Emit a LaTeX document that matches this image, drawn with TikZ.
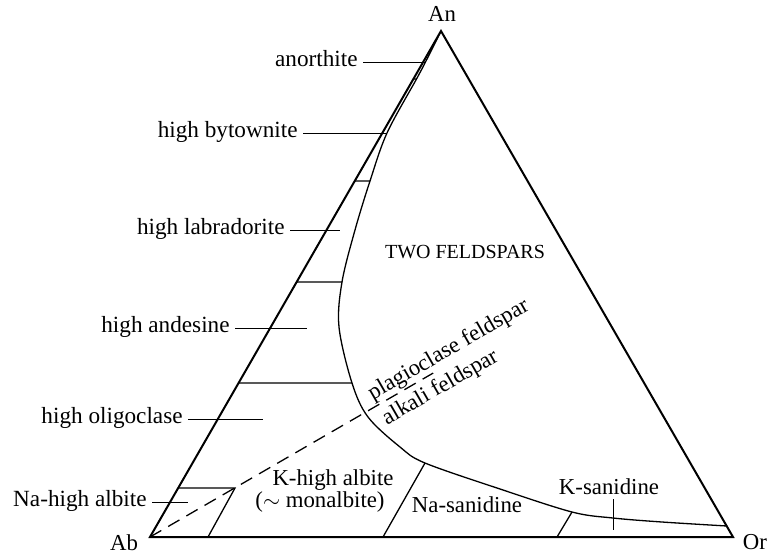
\documentclass[tikz,border=0pt]{standalone}
\usepackage{fontspec}
\setmainfont{Liberation Serif}
\usetikzlibrary{calc}
\begin{document}
\begin{tikzpicture}[x=0.5pt,y=-0.5pt,
  edge/.style={line width=1pt, line join=miter},
  bound/.style={line width=0.65pt},
  tick/.style={line width=0.5pt},
  lbl/.style={font=\fontsize{11.6}{13}\selectfont, inner sep=2.5pt, text height=0.7em, text depth=0.25em},
  vertex/.style={font=\fontsize{11.4}{13}\selectfont, inner sep=0pt},
  small/.style={font=\fontsize{10}{12}\selectfont, inner sep=0pt}]
  \useasboundingbox (0,0) rectangle (777,553);
  \coordinate (Ab) at (150,537);
  \coordinate (Or) at (733,537);
  \coordinate (An) at (441,31);
  \coordinate (M) at ($(An)!0.5!(Or)$);
  \draw[edge] (Ab) -- (An) -- (Or) -- cycle;
  \node[vertex] (lAn) at (442,14) {An};
  \node[vertex] (lAb) at (124,543) {Ab};
  \node[vertex] (lOr) at (755,542) {Or};
  % solvus
  \coordinate (c1) at (425.5,62);
  \coordinate (c2) at (416.5,79);
  \coordinate (c3) at (387,133);
  \coordinate (c4) at (370,181);
  \coordinate (c5) at (355,230);
  \coordinate (c6) at (342,282);
  \coordinate (c7) at (339,327);
  \coordinate (c8) at (352,383);
  \coordinate (c9) at (368,417);
  \coordinate (c10) at (400,447);
  \coordinate (c11) at (425,463);
  \coordinate (c12) at (500,489);
  \coordinate (c13) at (572,512);
  \coordinate (c14) at (613,518);
  \coordinate (c15) at (662,522);
  \coordinate (c16) at (727,526);
  \draw[bound] plot[smooth, tension=0.55] coordinates {(An) (c1) (c2) (c3) (c4) (c5) (c6) (c7) (c8) (c9) (c10) (c11) (c12) (c13) (c14) (c15) (c16)};
  \draw[bound] ($(Ab)!0.905!(An)$) -- (c2);
  \draw[bound] ($(Ab)!0.7036!(An)$) -- (c4);
  \draw[bound] ($(Ab)!0.504!(An)$) -- (c6);
  \draw[bound] ($(Ab)!0.3043!(An)$) -- (c8);
  \coordinate (bx1) at (235,488);
  \coordinate (bx2) at (208,537);
  \draw[bound] ($(Ab)!0.0968!(An)$) -- (bx1) -- (bx2);
  \draw[bound] (c11) -- (383,537);
  \draw[bound] (c13) -- (557,537);
  \draw[bound, dash pattern=on 6.5pt off 4pt] (Ab) -- ($(Ab)!0.648!(M)$);
  % plagioclase series
  \node[lbl, anchor=east] (anor) at (363,62) {anorthite};
  \draw[tick] (anor.east) -- (c1);
  \node[lbl, anchor=east] (byto) at (303,133) {high bytownite};
  \draw[tick] (byto.east) -- (c3);
  \coordinate (plab) at (340,230);
  \node[lbl, anchor=east] (labr) at (290,230) {high labradorite};
  \draw[tick] (labr.east) -- (plab);
  \coordinate (pand) at (307,328);
  \node[lbl, anchor=east] (ande) at (235,328) {high andesine};
  \draw[tick] (ande.east) -- (pand);
  \coordinate (polig) at (263,419);
  \node[lbl, anchor=east] (olig) at (188,419) {high oligoclase};
  \draw[tick] (olig.east) -- (polig);
  \coordinate (palb) at (188,502);
  \node[lbl, anchor=east] (naalb) at (152,502) {Na-high albite};
  \draw[tick] (naalb.east) -- (palb);
  % fields
  \node[small] (two) at (465,252) {TWO FELDSPARS};
  \node[vertex, rotate=30, anchor=south, inner sep=0.5pt] (plag) at ($(Ab)!0.697!(M)$) {plagioclase feldspar};
  \node[vertex, rotate=30, anchor=north, inner sep=2.8pt] (alk) at ($(Ab)!0.646!(M)$) {alkali feldspar};
  \node[vertex] (khalb) at (333,480) {K-high albite};
  \node[vertex] (monal) at (320,502) {($\sim$ monalbite)};
  \node[vertex] (nasan) at (467,505) {Na-sanidine};
  \node[vertex] (ksan) at (609,487) {K-sanidine};
  \coordinate (ks1) at (613,499);
  \coordinate (ks2) at (613,530);
  \draw[tick] (ks1) -- (ks2);
\end{tikzpicture}
\end{document}
